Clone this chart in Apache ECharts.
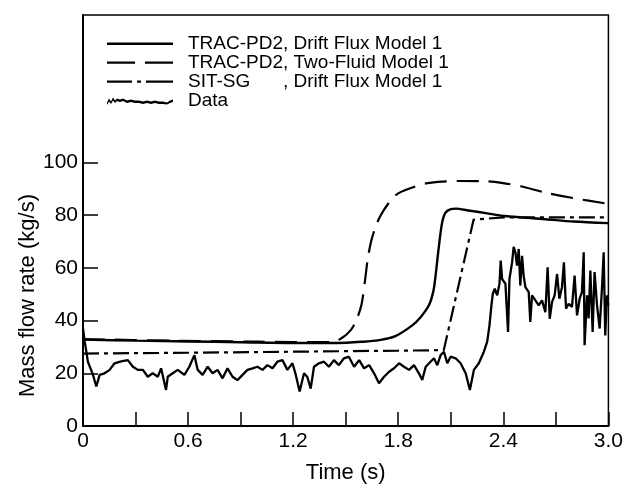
<!DOCTYPE html>
<html><head><meta charset="utf-8">
<script src="https://cdn.jsdelivr.net/npm/echarts@6/dist/echarts.min.js"></script>
<style>html,body{margin:0;padding:0;background:#fff}#c{width:626px;height:489px}</style>
</head><body><div id="c"></div>
<script>
// ---- data ----
const xTickLabels = [0, 0.6, 1.2, 1.8, 2.4, 3.0];
const yTickLabels = [0, 20, 40, 60, 80, 100];

const driftTime = [0, 0.3, 0.6, 0.9, 1.2, 1.45, 1.6, 1.69, 1.78, 1.88, 1.93, 1.975, 2.0, 2.013, 2.03, 2.05, 2.07, 2.1, 2.13, 2.2, 2.3, 2.41, 2.5, 2.64, 2.8, 3.0];
const driftFlow = [32.8, 32.4, 32.1, 31.8, 31.5, 31.5, 32, 32.6, 34, 38.2, 41.5, 45.8, 51, 57, 67, 77, 81, 82.3, 82.5, 81.8, 80.8, 79.7, 79.2, 78.5, 77.6, 77];

const twoFluidTime = [0, 0.5, 1.0, 1.42, 1.48, 1.53, 1.56, 1.59, 1.61, 1.625, 1.645, 1.67, 1.7, 1.75, 1.8, 1.9, 1.98, 2.15, 2.3, 2.39, 2.5, 2.64, 2.8, 3.0];
const twoFluidFlow = [33, 32.4, 32, 31.8, 33.5, 36.5, 40, 46, 55, 63, 70, 75.5, 80, 85, 88.3, 91, 92.3, 93, 92.9, 92.3, 91, 88.6, 86.5, 84.3];

const sitTime = [0, 0.6, 1.2, 1.8, 2.06, 2.23, 2.4, 3.0];
const sitFlow = [27.5, 27.8, 28.2, 28.6, 28.8, 78.3, 79.2, 79.2];

const dataTime = [0, 0.01, 0.028, 0.057, 0.076, 0.095, 0.123, 0.152, 0.18, 0.218, 0.256, 0.285, 0.313, 0.342, 0.37, 0.398, 0.427, 0.446, 0.474, 0.484, 0.512, 0.541, 0.579, 0.607, 0.636, 0.655, 0.683, 0.712, 0.74, 0.768, 0.797, 0.825, 0.854, 0.882, 0.911, 0.939, 0.968, 0.996, 1.025, 1.053, 1.082, 1.11, 1.139, 1.167, 1.196, 1.215, 1.237, 1.262, 1.281, 1.3, 1.319, 1.347, 1.376, 1.404, 1.433, 1.461, 1.49, 1.518, 1.548, 1.577, 1.605, 1.634, 1.662, 1.69, 1.719, 1.748, 1.776, 1.805, 1.833, 1.862, 1.89, 1.918, 1.937, 1.957, 1.976, 2.004, 2.023, 2.042, 2.061, 2.08, 2.099, 2.128, 2.156, 2.185, 2.209, 2.232, 2.26, 2.289, 2.308, 2.321, 2.332, 2.34, 2.351, 2.365, 2.378, 2.385, 2.393, 2.412, 2.427, 2.435, 2.45, 2.459, 2.469, 2.478, 2.488, 2.497, 2.507, 2.516, 2.526, 2.545, 2.554, 2.564, 2.583, 2.602, 2.621, 2.64, 2.653, 2.665, 2.678, 2.693, 2.707, 2.72, 2.735, 2.746, 2.758, 2.773, 2.792, 2.807, 2.821, 2.836, 2.849, 2.859, 2.864, 2.878, 2.887, 2.897, 2.91, 2.921, 2.935, 2.95, 2.963, 2.973, 2.982, 2.992, 3.0];
const dataFlow = [37, 32, 24.4, 19.4, 15, 19.4, 20, 21.3, 23.8, 24.5, 25, 22.5, 21.3, 21.3, 18.7, 20, 18.7, 21.9, 13.7, 18.7, 20, 21.3, 19.4, 22.5, 26.9, 21.3, 19.4, 22.5, 20, 21.3, 18.1, 21.9, 18.7, 17.4, 19.4, 21.3, 21.9, 22.5, 21.3, 23.1, 21.9, 24.4, 25, 21.3, 23.8, 19.4, 13.1, 20, 18.6, 14.2, 22.5, 23.8, 24.4, 22.5, 25, 23.1, 25.7, 26.3, 22.5, 25, 21.9, 23.1, 20, 16.2, 18.7, 20.6, 21.9, 23.8, 22.5, 21.3, 23.1, 20, 17.5, 22.5, 23.8, 25.7, 23.1, 26.9, 28.2, 23.8, 26.3, 25.7, 23.8, 20, 13.7, 21.3, 23.8, 28.2, 32, 38.2, 45.8, 50.2, 52.1, 49.6, 54, 62.8, 55.8, 54, 35.7, 55.8, 62.1, 68, 65.9, 60.9, 67.2, 53.3, 64.6, 57.1, 52.7, 50.8, 39.5, 49.6, 47.7, 45.8, 47.7, 43.2, 60.2, 40.7, 47, 49.6, 57.7, 48.3, 52.7, 62.1, 44.5, 46.4, 45.2, 57.1, 42, 48.3, 50.8, 65.9, 30.7, 49.6, 40.8, 59, 35.7, 58.4, 45.8, 37, 52.1, 65.9, 34.4, 49.6, 45.8];

const seriesNames = ['TRAC-PD2, Drift Flux Model 1', 'TRAC-PD2, Two-Fluid Model 1', 'SIT-SG, Drift Flux Model 1', 'Data'];

// ---- build ----
const pairs = (xs, ys) => xs.map((x, i) => [x, ys[i]]);
const FONT = 'Liberation Sans, Arial, Helvetica, sans-serif';
const anchor = 'M0,0h0.01v0.01h-0.01zM65.99,13.99h0.01v0.01h-0.01z';
const iconSolid = 'path://' + anchor + 'M0,6h66v2.4h-66z';
const iconDash = 'path://' + anchor + 'M0,6h28v2.2h-28zM38,6h28v2.2h-28z';
const iconDashDot = 'path://' + anchor + 'M0,6h25v2.2h-25zM30,6h4v2.2h-4zM39,6h27v2.2h-27z';
const iconData = 'path://' + anchor + 'M0,9L2,5L4,8L6,4L8,7L10,5L13,6L16,5L20,7L24,6L28,7L32,7L36,8L40,7L44,8L48,7L52,8L56,8L60,9L63,7L66,6L66,8.5L63,9.5L60,11L56,10.5L52,10.5L48,9.5L44,10.5L40,9.5L36,10.5L32,9.5L28,9.5L24,8.5L20,9.5L16,7.5L13,8.5L10,7.5L8,9.5L6,7L4,10.5L2,8L0,11.5Z';

const chart = echarts.init(document.getElementById('c'), null, {renderer: 'canvas'});
chart.setOption({
  animation: false,
  backgroundColor: '#fff',
  textStyle: {fontFamily: FONT, color: '#000'},
  grid: {left: 83, right: 16, top: 15, bottom: 61, show: true, borderColor: '#000', borderWidth: 1.5, backgroundColor: 'transparent'},
  legend: {
    orient: 'vertical', left: 107, top: 34, padding: 0,
    itemWidth: 66, itemHeight: 14, itemGap: 0,
    textStyle: {fontSize: 19, color: '#000', fontFamily: FONT, padding: [0, 0, 0, 10],
      rich: {a: {fontSize: 19, width: 95, fontFamily: FONT}, b: {fontSize: 19, fontFamily: FONT}}},
    formatter: function (name) {
      if (name === seriesNames[2]) return '{a|SIT-SG}{b|, Drift Flux Model 1}';
      return name;
    },
    data: [
      {name: seriesNames[0], icon: iconSolid},
      {name: seriesNames[1], icon: iconDash},
      {name: seriesNames[2], icon: iconDashDot},
      {name: seriesNames[3], icon: iconData}
    ]
  },
  xAxis: {
    type: 'value', min: 0, max: 3, interval: 0.3,
    name: 'Time (s)', nameLocation: 'middle', nameGap: 36,
    nameTextStyle: {fontSize: 22, color: '#000', fontFamily: FONT},
    axisLine: {lineStyle: {color: '#000', width: 2}},
    axisTick: {inside: true, length: 14, lineStyle: {color: '#000', width: 1.5}},
    axisLabel: {customValues: xTickLabels, fontSize: 21, color: '#000', margin: 5, fontFamily: FONT,
      formatter: v => (v === 0 ? '0' : v.toFixed(1))},
    splitLine: {show: false}
  },
  yAxis: {
    type: 'value', min: 0, max: 156, interval: 20,
    name: 'Mass flow rate (kg/s)', nameLocation: 'middle', nameGap: 44, nameMoveOverlap: false,
    nameTextStyle: {fontSize: 22, color: '#000', fontFamily: FONT, padding: [0, 150, 0, 0]},
    axisLine: {lineStyle: {color: '#000', width: 2}},
    axisTick: {inside: true, length: 15, customValues: yTickLabels, lineStyle: {color: '#000', width: 1.5}},
    axisLabel: {customValues: yTickLabels, fontSize: 21, color: '#000', margin: 5, fontFamily: FONT},
    splitLine: {show: false}
  },
  series: [
    {name: seriesNames[0], type: 'line', data: pairs(driftTime, driftFlow), symbol: 'none', smooth: 0.3,
      itemStyle: {color: '#000'}, lineStyle: {color: '#000', width: 2.4}},
    {name: seriesNames[1], type: 'line', data: pairs(twoFluidTime, twoFluidFlow), symbol: 'none', smooth: 0.3,
      itemStyle: {color: '#000'}, lineStyle: {color: '#000', width: 2.2, type: [22, 10]}},
    {name: seriesNames[2], type: 'line', data: pairs(sitTime, sitFlow), symbol: 'none',
      itemStyle: {color: '#000'}, lineStyle: {color: '#000', width: 2.2, type: [16, 5, 4, 5]}},
    {name: seriesNames[3], type: 'line', data: pairs(dataTime, dataFlow), symbol: 'none',
      itemStyle: {color: '#000'}, lineStyle: {color: '#000', width: 2.3}}
  ]
});
</script></body></html>
